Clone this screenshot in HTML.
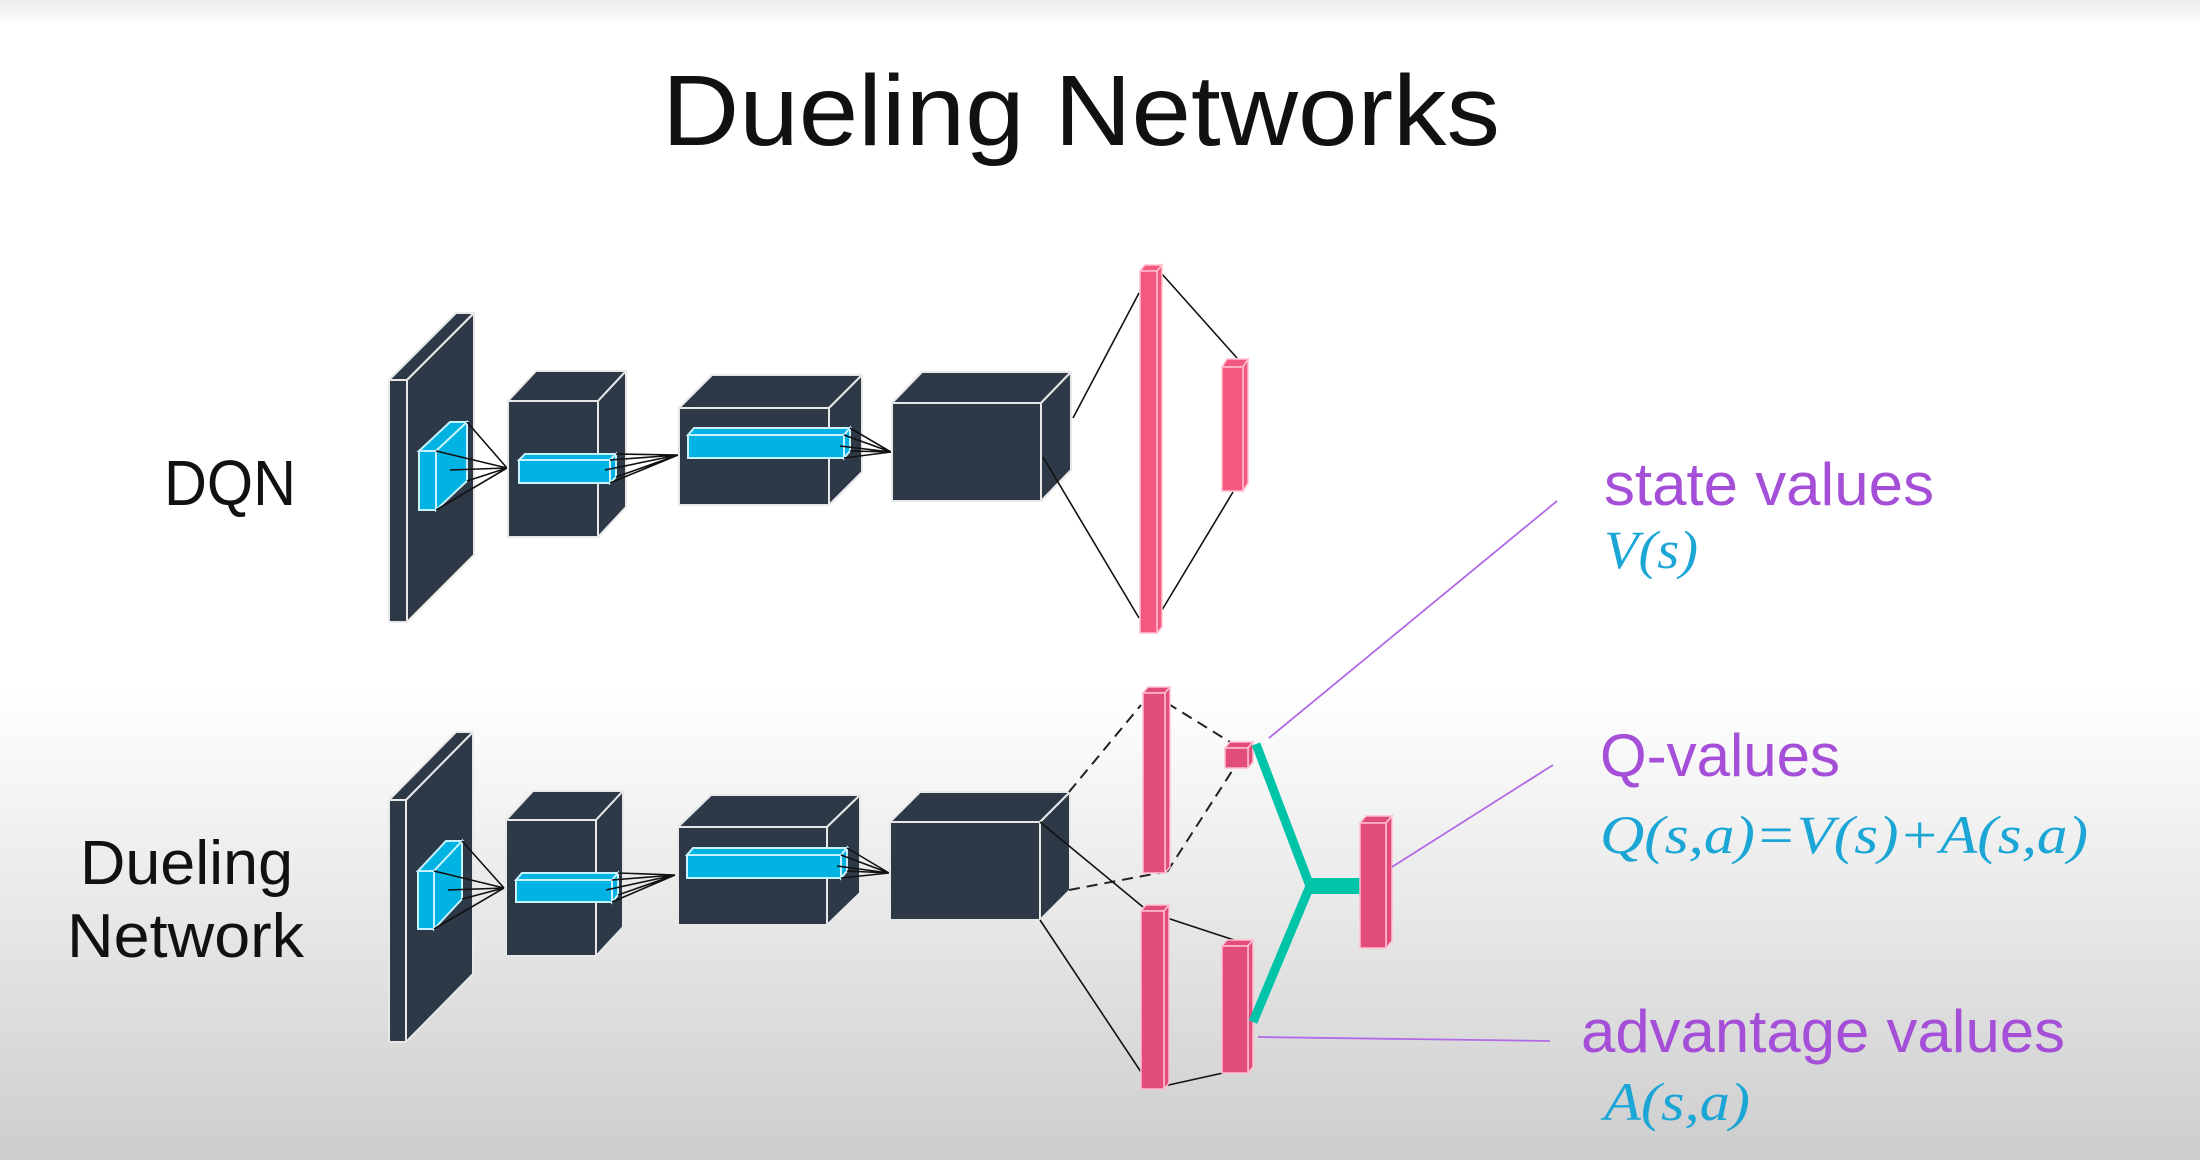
<!DOCTYPE html>
<html><head><meta charset="utf-8"><style>
html,body{margin:0;padding:0}
body{width:2200px;height:1160px;overflow:hidden;background:linear-gradient(to bottom,#ececec 0px,#ffffff 25px,#ffffff 690px,#e4e4e4 950px,#cdcdcd 1160px)}
svg{display:block}
.d{fill:#2e3947;stroke:#e8e8e8;stroke-width:2;stroke-linejoin:round}
.b{fill:#00b3e3;stroke:#c8f2ff;stroke-width:2}
.p{fill:#f4587f;stroke:#ffc0d0;stroke-width:1.5}
.q{fill:#e24c7b;stroke:#ffc0d0;stroke-width:1.5}
.l{stroke:#111;stroke-width:1.6;fill:none}
.ds{stroke:#222;stroke-width:2;fill:none;stroke-dasharray:11 7}
.pu{stroke:#b26ae6;stroke-width:1.8;fill:none}
.t{font-family:"Liberation Sans",sans-serif}
.m{font-family:"Liberation Serif",serif;font-style:italic;fill:#1ba6d6}
</style></head><body>
<svg width="2200" height="1160" viewBox="0 0 2200 1160">
<text class="t" x="662" y="145" font-size="100" textLength="838" lengthAdjust="spacingAndGlyphs" fill="#111">Dueling Networks</text>
<text class="t" x="164" y="505" font-size="64" textLength="132" lengthAdjust="spacingAndGlyphs" fill="#111">DQN</text>
<text class="t" x="80" y="884" font-size="62" textLength="213" lengthAdjust="spacingAndGlyphs" fill="#111">Dueling</text>
<text class="t" x="67" y="957" font-size="62" textLength="237" lengthAdjust="spacingAndGlyphs" fill="#111">Network</text>

<!-- TOP ROW -->
<polygon class="d" points="389,380 407,380 474,313 456,313"/>
<polygon class="d" points="407,380 474,313 474,555 407,622"/>
<rect class="d" x="389" y="380" width="18" height="242"/>
<polygon class="b" points="419,451 436,451 467,422 450,422"/>
<polygon class="b" points="436,451 467,422 467,481 436,510"/>
<rect class="b" x="419" y="451" width="17" height="59"/>
<g class="l"><path d="M436,451L507,468M467,422L507,468M436,510L507,468M467,481L507,468M450,470L507,468"/></g>

<polygon class="d" points="508,401 598,401 626,371 536,371"/>
<polygon class="d" points="598,401 626,371 626,507 598,537"/>
<rect class="d" x="508" y="401" width="90" height="136"/>
<polygon class="b" points="519,460 610,460 616,454 525,454"/>
<polygon class="b" points="610,460 616,454 616,477 610,483"/>
<rect class="b" x="519" y="460" width="91" height="23"/>
<g class="l"><path d="M610,460L678,455M616,454L678,455M610,483L678,455M616,477L678,455M605,470L678,455"/></g>

<polygon class="d" points="679,408 829,408 862,375 712,375"/>
<polygon class="d" points="829,408 862,375 862,472 829,505"/>
<rect class="d" x="679" y="408" width="150" height="97"/>
<polygon class="b" points="688,435 844,435 850,428 694,428"/>
<polygon class="b" points="844,435 850,428 850,451 844,458"/>
<rect class="b" x="688" y="435" width="156" height="23"/>
<g class="l"><path d="M844,435L891,452M850,428L891,452M844,458L891,452M850,451L891,452M840,446L891,452"/></g>

<polygon class="d" points="892,403 1041,403 1071,372 922,372"/>
<polygon class="d" points="1041,403 1071,372 1071,470 1041,501"/>
<rect class="d" x="892" y="403" width="149" height="98"/>

<g class="l"><path d="M1073,418L1139,293M1043,457L1139,618M1162,274L1237,358M1162,610L1233,492"/></g>
<polygon class="p" points="1140,271 1157,271 1162,265 1145,265"/>
<polygon class="p" points="1157,271 1162,265 1162,627 1157,633"/>
<rect class="p" x="1140" y="271" width="17" height="362"/>
<polygon class="p" points="1222,367 1243,367 1248,359 1227,359"/>
<polygon class="p" points="1243,367 1248,359 1248,483 1243,491"/>
<rect class="p" x="1222" y="367" width="21" height="124"/>

<!-- BOTTOM ROW -->
<polygon class="d" points="389,800 406,800 473,732 456,732"/>
<polygon class="d" points="406,800 473,732 473,974 406,1042"/>
<rect class="d" x="389" y="800" width="17" height="242"/>
<polygon class="b" points="418,871 434,871 462,841 446,841"/>
<polygon class="b" points="434,871 462,841 462,899 434,929"/>
<rect class="b" x="418" y="871" width="16" height="58"/>
<g class="l"><path d="M434,871L504,888M462,841L504,888M434,929L504,888M462,899L504,888M448,890L504,888"/></g>

<polygon class="d" points="506,820 596,820 623,791 533,791"/>
<polygon class="d" points="596,820 623,791 623,927 596,956"/>
<rect class="d" x="506" y="820" width="90" height="136"/>
<polygon class="b" points="516,880 612,880 618,873 522,873"/>
<polygon class="b" points="612,880 618,873 618,895 612,902"/>
<rect class="b" x="516" y="880" width="96" height="22"/>
<g class="l"><path d="M612,880L675,875M618,873L675,875M612,902L675,875M618,895L675,875M606,890L675,875"/></g>

<polygon class="d" points="678,827 827,827 860,795 711,795"/>
<polygon class="d" points="827,827 860,795 860,893 827,925"/>
<rect class="d" x="678" y="827" width="149" height="98"/>
<polygon class="b" points="687,855 841,855 847,848 693,848"/>
<polygon class="b" points="841,855 847,848 847,871 841,878"/>
<rect class="b" x="687" y="855" width="154" height="23"/>
<g class="l"><path d="M841,855L889,873M847,848L889,873M841,878L889,873M847,871L889,873M837,866L889,873"/></g>

<polygon class="d" points="890,822 1040,822 1070,792 920,792"/>
<polygon class="d" points="1040,822 1070,792 1070,890 1040,920"/>
<rect class="d" x="890" y="822" width="150" height="98"/>

<g class="ds"><path d="M1069,792L1141,705M1069,890L1164,872M1167,703L1230,742M1167,872L1234,768"/></g>
<g class="l"><path d="M1040,822L1143,907M1040,920L1143,1075M1164,917L1234,940M1164,1086L1223,1073"/></g>

<polygon class="q" points="1143,693 1165,693 1170,687 1148,687"/>
<polygon class="q" points="1165,693 1170,687 1170,867 1165,873"/>
<rect class="q" x="1143" y="693" width="22" height="180"/>
<polygon class="q" points="1225,748 1248,748 1253,742 1230,742"/>
<polygon class="q" points="1248,748 1253,742 1253,762 1248,768"/>
<rect class="q" x="1225" y="748" width="23" height="20"/>
<polygon class="q" points="1141,911 1164,911 1169,905 1146,905"/>
<polygon class="q" points="1164,911 1169,905 1169,1083 1164,1089"/>
<rect class="q" x="1141" y="911" width="23" height="178"/>
<polygon class="q" points="1222,946 1248,946 1253,940 1227,940"/>
<polygon class="q" points="1248,946 1253,940 1253,1067 1248,1073"/>
<rect class="q" x="1222" y="946" width="26" height="127"/>

<g stroke="#00c4a8" fill="none" stroke-linecap="butt">
<path d="M1256,744L1310,886L1253,1022" stroke-width="9" stroke-linejoin="miter"/>
<path d="M1306,886L1362,886" stroke-width="16"/>
</g>
<polygon class="q" points="1360,823 1386,823 1392,816 1366,816"/>
<polygon class="q" points="1386,823 1392,816 1392,941 1386,948"/>
<rect class="q" x="1360" y="823" width="26" height="125"/>

<g class="pu"><path d="M1269,738L1557,501M1392,867L1553,765M1258,1037L1550,1041"/></g>

<text class="t" x="1604" y="505" font-size="60" textLength="330" lengthAdjust="spacingAndGlyphs" fill="#a54fd8">state values</text>
<text class="m" x="1604" y="568" font-size="54" textLength="94" lengthAdjust="spacingAndGlyphs">V(s)</text>
<text class="t" x="1600" y="776" font-size="60" textLength="240" lengthAdjust="spacingAndGlyphs" fill="#a54fd8">Q-values</text>
<text class="m" x="1600" y="853" font-size="54" textLength="488" lengthAdjust="spacingAndGlyphs">Q(s,a)=V(s)+A(s,a)</text>
<text class="t" x="1581" y="1052" font-size="60" textLength="484" lengthAdjust="spacingAndGlyphs" fill="#a54fd8">advantage values</text>
<text class="m" x="1604" y="1120" font-size="54" textLength="146" lengthAdjust="spacingAndGlyphs">A(s,a)</text>
</svg>
</body></html>
